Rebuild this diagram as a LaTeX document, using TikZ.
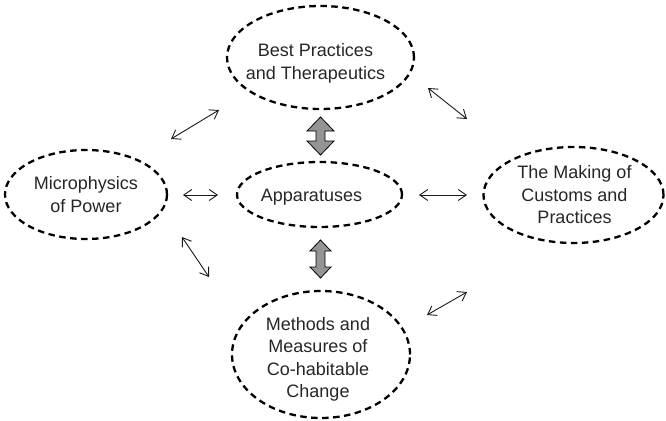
\documentclass[tikz,border=0pt]{standalone}
\usepackage{fontspec}
\setmainfont{Liberation Sans}
\usetikzlibrary{shapes.geometric,arrows.meta}
\begin{document}
\begin{tikzpicture}[x=1pt,y=-1pt,
  idea/.style={ellipse,draw=black,line width=2.3pt,dash pattern=on 6.5pt off 4.5pt,
    inner sep=0pt},
  caption/.style={align=center,text=black!85,inner sep=0pt,
    font=\fontsize{18pt}{22.5pt}\selectfont},
  link/.style={draw=black!90,line width=0.9pt,
    {Straight Barb[length=8pt,width=11pt]}-{Straight Barb[length=8pt,width=11pt]}},
  blockarrow/.style={draw=black,line width=0.8pt,fill=black!42,line join=miter},
  dblock/.pic={
    \path[blockarrow] (0,-19) -- (\hw,-19+\hl) -- (\sw,-19+\hl) -- (\sw,19-\hl)
      -- (\hw,19-\hl) -- (0,19) -- (-\hw,19-\hl) -- (-\sw,19-\hl) -- (-\sw,-19+\hl)
      -- (-\hw,-19+\hl) -- cycle;
  }]
\useasboundingbox (0,0) rectangle (666,420);

% the five ideas, each caption set inside its dashed ellipse
\node[idea,minimum width=187pt,minimum height=103pt,
  label={[caption,xshift=-5pt,yshift=-6pt]center:{Best Practices\\and Therapeutics}}]
  (best) at (320.5,57.5) {};
\node[idea,minimum width=165pt,minimum height=65pt,
  label={[caption,xshift=-8pt,yshift=-3pt]center:{Apparatuses}}]
  (app) at (319.5,194.5) {};
\node[idea,minimum width=162pt,minimum height=89pt,
  label={[caption]center:{Microphysics\\of Power}}]
  (micro) at (86,194.5) {};
\node[idea,minimum width=180pt,minimum height=96pt,
  label={[caption,xshift=1pt]center:{The Making of\\Customs and\\Practices}}]
  (making) at (573.5,195) {};
\node[idea,minimum width=178pt,minimum height=127pt,
  label={[caption,xshift=-3pt,yshift=-5pt]center:{Methods and\\Measures of\\Co-habitable\\Change}}]
  (methods) at (321,354.5) {};

% ends of the thin two-way links
\coordinate (ml1) at (171,139);  \coordinate (ml2) at (219,110);
\coordinate (mr1) at (183,195);  \coordinate (mr2) at (218,195);
\coordinate (mb1) at (182,237);  \coordinate (mb2) at (209,277);
\coordinate (rt1) at (428,88);   \coordinate (rt2) at (467,119);
\coordinate (rm1) at (419,195);  \coordinate (rm2) at (467,195);
\coordinate (rb1) at (427,315);  \coordinate (rb2) at (467,292);

\draw[link] (ml1) -- (ml2);
\draw[link] (mr1) -- (mr2);
\draw[link] (mb1) -- (mb2);
\draw[link] (rt1) -- (rt2);
\draw[link] (rm1) -- (rm2);
\draw[link] (rb1) -- (rb2);

% broad two-way arrows on the vertical axis
\def\hw{13.5}\def\sw{4.5}\def\hl{14}
\pic (upblock) at (320.5,136) {dblock};
\def\hw{10.5}\def\sw{4.5}\def\hl{11}
\pic (downblock) at (320.5,259) {dblock};
\end{tikzpicture}
\end{document}
